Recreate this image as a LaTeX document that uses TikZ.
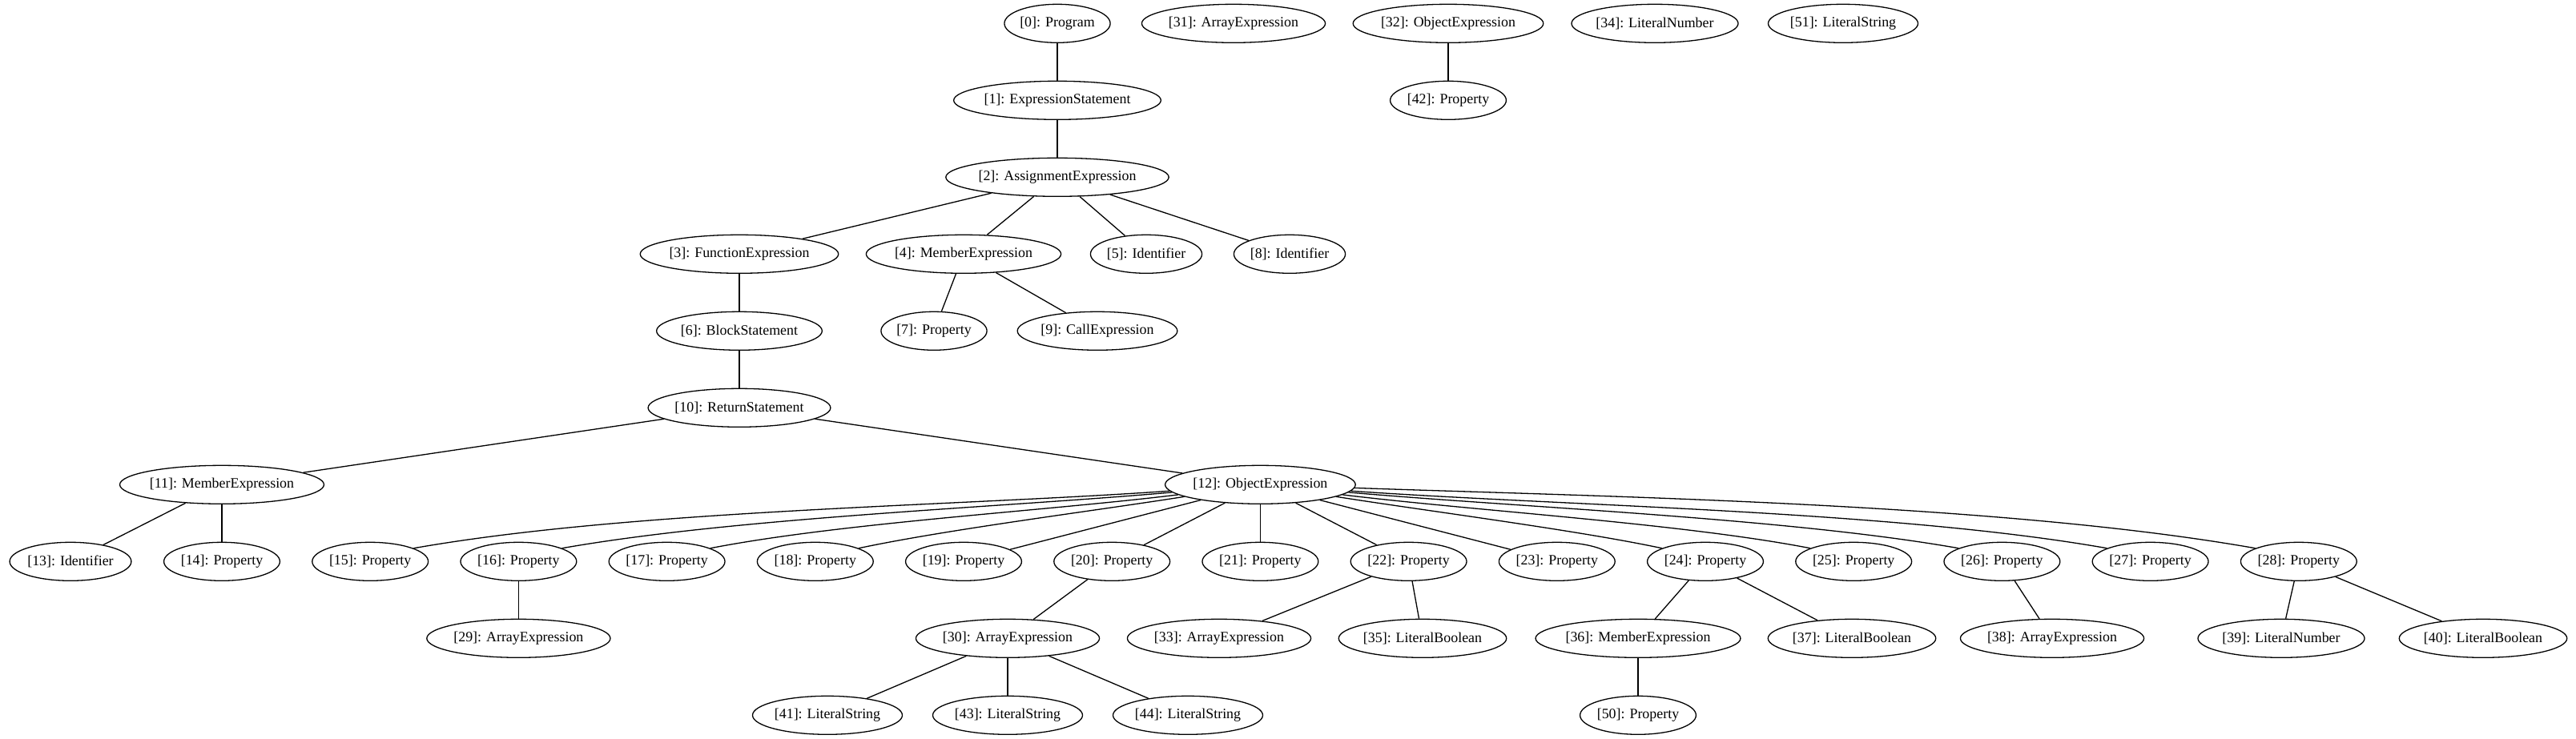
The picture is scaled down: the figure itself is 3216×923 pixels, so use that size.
\documentclass[tikz,border=0pt]{standalone}
\usepackage{fontspec}
\setmainfont{Liberation Serif}
\usetikzlibrary{shapes.geometric}
\newcommand\gvfont{\fontsize{17.9}{21}\selectfont}
\newlength\gvw
\tikzset{
  gv/.style={draw, ellipse, inner sep=0pt, minimum height=48pt, line width=1.3pt, font=\gvfont},
  e/.style={line width=1.3pt}
}
\newcommand\gvnode[4]{%
  \settowidth\gvw{\gvfont #4}%
  \node[gv, minimum width={1.34*\gvw+26pt}] (#1) at (#2,#3) {#4};}
\begin{document}
\begin{tikzpicture}[x=1pt,y=-1pt]
\useasboundingbox (0,0) rectangle (3216,923);
% row 0
\gvnode{n0}{1320}{29.3}{[0]: Program}
\gvnode{n31}{1540}{29.3}{[31]: ArrayExpression}
\gvnode{n32}{1808}{29.3}{[32]: ObjectExpression}
\gvnode{n34}{2066}{29.3}{[34]: LiteralNumber}
\gvnode{n51}{2301}{29.3}{[51]: LiteralString}
% row 1
\gvnode{n1}{1320}{125.3}{[1]: ExpressionStatement}
\gvnode{n42}{1808}{125.3}{[42]: Property}
% row 2
\gvnode{n2}{1320}{221.3}{[2]: AssignmentExpression}
% row 3
\gvnode{n3}{923}{317.3}{[3]: FunctionExpression}
\gvnode{n4}{1203}{317.3}{[4]: MemberExpression}
\gvnode{n5}{1431}{317.3}{[5]: Identifier}
\gvnode{n8}{1610}{317.3}{[8]: Identifier}
% row 4
\gvnode{n6}{923}{413.3}{[6]: BlockStatement}
\gvnode{n7}{1166}{413.3}{[7]: Property}
\gvnode{n9}{1370}{413.3}{[9]: CallExpression}
% row 5
\gvnode{n10}{923}{509.3}{[10]: ReturnStatement}
% row 6
\gvnode{n11}{277}{605.3}{[11]: MemberExpression}
\gvnode{n12}{1573.4}{605.3}{[12]: ObjectExpression}
% row 7
\gvnode{n13}{88}{701.3}{[13]: Identifier}
\gvnode{n14}{277}{701.3}{[14]: Property}
\gvnode{n15}{462.2}{701.3}{[15]: Property}
\gvnode{n16}{647.4}{701.3}{[16]: Property}
\gvnode{n17}{832.6}{701.3}{[17]: Property}
\gvnode{n18}{1017.8}{701.3}{[18]: Property}
\gvnode{n19}{1203}{701.3}{[19]: Property}
\gvnode{n20}{1388.2}{701.3}{[20]: Property}
\gvnode{n21}{1573.4}{701.3}{[21]: Property}
\gvnode{n22}{1758.6}{701.3}{[22]: Property}
\gvnode{n23}{1943.8}{701.3}{[23]: Property}
\gvnode{n24}{2129}{701.3}{[24]: Property}
\gvnode{n25}{2314.2}{701.3}{[25]: Property}
\gvnode{n26}{2499.4}{701.3}{[26]: Property}
\gvnode{n27}{2684.6}{701.3}{[27]: Property}
\gvnode{n28}{2869.8}{701.3}{[28]: Property}
% row 8
\gvnode{n29}{647.4}{797.3}{[29]: ArrayExpression}
\gvnode{n30}{1258}{797.3}{[30]: ArrayExpression}
\gvnode{n33}{1522}{797.3}{[33]: ArrayExpression}
\gvnode{n35}{1776}{797.3}{[35]: LiteralBoolean}
\gvnode{n36}{2045}{797.3}{[36]: MemberExpression}
\gvnode{n37}{2312}{797.3}{[37]: LiteralBoolean}
\gvnode{n38}{2562}{797.3}{[38]: ArrayExpression}
\gvnode{n39}{2848}{797.3}{[39]: LiteralNumber}
\gvnode{n40}{3100}{797.3}{[40]: LiteralBoolean}
% row 9
\gvnode{n41}{1033}{893.3}{[41]: LiteralString}
\gvnode{n43}{1258}{893.3}{[43]: LiteralString}
\gvnode{n44}{1483}{893.3}{[44]: LiteralString}
\gvnode{n50}{2045}{893.3}{[50]: Property}
% straight edges
\draw[e] (n0) -- (n1);
\draw[e] (n1) -- (n2);
\draw[e] (n32) -- (n42);
\draw[e] (n2) -- (n3);
\draw[e] (n2) -- (n4);
\draw[e] (n2) -- (n5);
\draw[e] (n2) -- (n8);
\draw[e] (n3) -- (n6);
\draw[e] (n4) -- (n7);
\draw[e] (n4) -- (n9);
\draw[e] (n6) -- (n10);
\draw[e] (n10) -- (n11);
\draw[e] (n10) -- (n12);
\draw[e] (n11) -- (n13);
\draw[e] (n11) -- (n14);
\draw[e] (n12) -- (n19);
\draw[e] (n12) -- (n20);
\draw[e] (n12) -- (n21);
\draw[e] (n12) -- (n22);
\draw[e] (n12) -- (n23);
\draw[e] (n16) -- (n29);
\draw[e] (n20) -- (n30);
\draw[e] (n22) -- (n33);
\draw[e] (n22) -- (n35);
\draw[e] (n24) -- (n36);
\draw[e] (n24) -- (n37);
\draw[e] (n26) -- (n38);
\draw[e] (n28) -- (n39);
\draw[e] (n28) -- (n40);
\draw[e] (n30) -- (n41);
\draw[e] (n30) -- (n43);
\draw[e] (n30) -- (n44);
\draw[e] (n36) -- (n50);
% fan-out curves from [12] (polar angles negated because y points down)
\draw[e] (n12.184) .. controls +(176:275) and +(-10:275) .. (n15.17);
\draw[e] (n12.185) .. controls +(175:220) and +(-10:220) .. (n16.17);
\draw[e] (n12.187) .. controls +(173:167) and +(-11:167) .. (n17.17);
\draw[e] (n12.189) .. controls +(171:114) and +(-12:114) .. (n18.17);
\draw[e] (n12.-9) .. controls +(9:110) and +(-168:110) .. (n24.163);
\draw[e] (n12.-7) .. controls +(7:163) and +(-169:163) .. (n25.163);
\draw[e] (n12.-5) .. controls +(5:216) and +(-170:216) .. (n26.163);
\draw[e] (n12.-4) .. controls +(4:270) and +(-170:270) .. (n27.163);
\draw[e] (n12.-2) .. controls +(2:323) and +(-170:323) .. (n28.163);
\end{tikzpicture}
\end{document}
